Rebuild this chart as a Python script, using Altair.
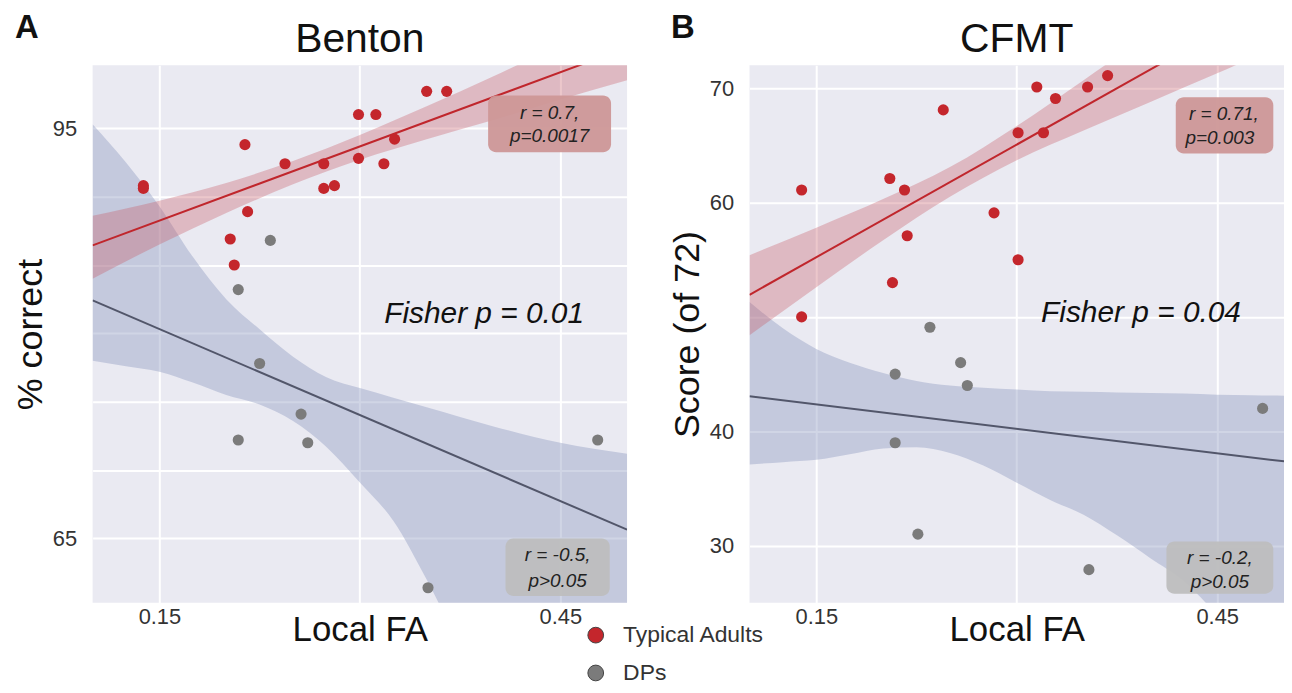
import altair as alt
import pandas as pd

FONT = "Liberation Sans"
GROUPS = ["Typical Adults", "DPs"]
PT_COLORS = ["#C4262C", "#7B7B7B"]

# ---------------- Panel A : Benton ----------------
a_ta_x = [0.138, 0.138, 0.214, 0.216, 0.203, 0.206, 0.244, 0.273, 0.273, 0.281,
          0.299, 0.312, 0.299, 0.318, 0.326, 0.350, 0.365]
a_ta_y = [90.8, 90.6, 93.8, 88.9, 86.9, 85.0, 92.4, 92.4, 90.6, 90.8,
          96.0, 96.0, 92.8, 92.4, 94.2, 97.7, 97.7]
a_dp_x = [0.233, 0.209, 0.225, 0.256, 0.209, 0.261, 0.351, 0.478]
a_dp_y = [86.8, 83.2, 77.8, 74.1, 72.2, 72.0, 61.4, 72.2]

# confidence bands
a_red_band_x = [0.10, 0.15, 0.20, 0.25, 0.30, 0.35, 0.40, 0.45, 0.50]
a_red_band_lo = [84.0, 86.5, 88.8, 90.9, 92.7, 94.2, 95.6, 97.1, 98.5]
a_red_band_hi = [88.6, 89.7, 91.0, 92.6, 94.5, 96.6, 98.8, 101.1, 103.3]
a_gray_band_x = [0.10, 0.125, 0.15, 0.175, 0.20, 0.225, 0.25, 0.275, 0.30,
                 0.325, 0.35, 0.40, 0.45, 0.50]
a_gray_band_lo = [78.0, 77.6, 77.2, 76.4, 75.5, 74.8, 73.6, 71.7, 69.1,
                  66.3, 62.0, 52.0, 44.0, 38.0]
a_gray_band_hi = [95.3, 92.5, 89.3, 85.6, 82.5, 80.3, 78.3, 76.8, 76.0,
                  75.3, 74.6, 73.2, 72.0, 71.2]

a_box_x1 = [0.396, 0.409]
a_box_x2 = [0.488, 0.487]
a_box_y1 = [97.4, 65.0]
a_box_y2 = [93.25, 60.8]
a_txt_x = [0.442, 0.442, 0.448, 0.448]
a_txt_y = [96.1, 94.4, 63.8, 61.9]
a_txt = ["r = 0.7,", "p=0.0017", "r = -0.5,", "p>0.05"]
a_fisher = ("Fisher p = 0.01", 0.393, 81.45)

# ---------------- Panel B : CFMT ----------------
b_ta_x = [0.139, 0.205, 0.216, 0.218, 0.207, 0.139, 0.245, 0.283, 0.301, 0.301,
          0.320, 0.315, 0.329, 0.353, 0.368]
b_ta_y = [61.1, 62.1, 61.1, 57.1, 53.0, 50.0, 68.1, 59.1, 55.0, 66.1,
          66.1, 70.1, 69.1, 70.1, 71.1]
b_dp_x = [0.235, 0.209, 0.226, 0.258, 0.209, 0.263, 0.354, 0.484]
b_dp_y = [49.1, 45.0, 31.0, 46.0, 39.0, 44.0, 27.9, 42.0]

b_red_band_x = [0.10, 0.15, 0.20, 0.25, 0.30, 0.35, 0.40, 0.45, 0.50]
b_red_band_lo = [48.4, 52.6, 56.7, 60.5, 63.7, 66.3, 68.8, 71.3, 73.9]
b_red_band_hi = [55.4, 57.8, 60.3, 63.1, 66.7, 70.7, 74.8, 78.9, 83.1]
b_gray_band_x = [0.10, 0.125, 0.15, 0.175, 0.20, 0.225, 0.25, 0.275, 0.30,
                 0.325, 0.35, 0.375, 0.40, 0.425, 0.45, 0.475, 0.50]
b_gray_band_lo = [37.1, 37.3, 37.5, 38.0, 38.5, 38.6, 38.1, 37.0, 35.5,
                  34.0, 32.7, 30.9, 28.9, 26.9, 24.0, 21.5, 19.0]
b_gray_band_hi = [51.3, 49.0, 47.2, 46.0, 45.1, 44.4, 44.0, 43.8, 43.65,
                  43.5, 43.45, 43.4, 43.35, 43.3, 43.2, 43.15, 43.1]

b_box_x1 = [0.419, 0.412]
b_box_x2 = [0.492, 0.492]
b_box_y1 = [69.2, 30.35]
b_box_y2 = [64.3, 25.8]
b_txt_x = [0.455, 0.452, 0.452, 0.452]
b_txt_y = [67.7, 65.6, 28.9, 26.8]
b_txt = ["r = 0.71,", "p=0.003", "r = -0.2,", "p>0.05"]
b_fisher = ("Fisher p = 0.04", 0.393, 50.3)

BOX_FILLS = ["#CD9797", "#BEBEBE"]
X_DOMAIN = [0.10, 0.50]
W, H = 537, 540


def panel(title, letter, letter_dx, ytitle, ydomain, yvals, yshown,
          ta_x, ta_y, dp_x, dp_y,
          rb_x, rb_lo, rb_hi, gb_x, gb_lo, gb_hi,
          bx1, bx2, by1, by2, tx, ty, tt, fisher):
    xscale = alt.Scale(domain=X_DOMAIN, nice=False, zero=False)
    yscale = alt.Scale(domain=ydomain, nice=False, zero=False)
    xaxis = alt.Axis(values=[0.15, 0.30, 0.45], format=".2f",
                     labelExpr="(datum.value > 0.2 && datum.value < 0.4) ? '' : datum.label",
                     title="Local FA", titleFontSize=35, titleY=38,
                     titleBaseline="alphabetic", labelPadding=4)
    cond = " || ".join(f"datum.value == {v}" for v in yshown)
    yaxis = alt.Axis(values=yvals, labelExpr=f"({cond}) ? datum.label : ''",
                     title=ytitle, titleFontSize=36, titleX=-62,
                     titleBaseline="middle", labelPadding=16)

    def X(f):
        return alt.X(f"{f}:Q", scale=xscale, axis=xaxis)

    def Y(f):
        return alt.Y(f"{f}:Q", scale=yscale, axis=yaxis)

    pts = pd.DataFrame({
        "x": ta_x + dp_x,
        "y": ta_y + dp_y,
        "group": [GROUPS[0]] * len(ta_x) + [GROUPS[1]] * len(dp_x),
    })
    ta = pts[pts.group == GROUPS[0]]
    dp = pts[pts.group == GROUPS[1]]
    rb = pd.DataFrame({"x": rb_x, "lo": rb_lo, "hi": rb_hi})
    gb = pd.DataFrame({"x": gb_x, "lo": gb_lo, "hi": gb_hi})

    gray_band = alt.Chart(gb).mark_area(color="#8E9CC2", opacity=0.42, clip=True,
                                        interpolate="monotone").encode(
        x=X("x"), y=Y("lo"), y2="hi")
    red_band = alt.Chart(rb).mark_area(color="#C85A66", opacity=0.34, clip=True,
                                       interpolate="monotone").encode(
        x=X("x"), y=Y("lo"), y2="hi")
    gray_line = alt.Chart(dp).transform_regression(
        "x", "y", extent=X_DOMAIN).mark_line(color="#52566A", strokeWidth=2, clip=True).encode(
        x=X("x"), y=Y("y"))
    red_line = alt.Chart(ta).transform_regression(
        "x", "y", extent=X_DOMAIN).mark_line(color="#C0262C", strokeWidth=2, clip=True).encode(
        x=X("x"), y=Y("y"))
    points = alt.Chart(pts).mark_circle(size=125, opacity=1).encode(
        x=X("x"), y=Y("y"),
        color=alt.Color("group:N", scale=alt.Scale(domain=GROUPS, range=PT_COLORS),
                        legend=alt.Legend(title=None, orient="none", legendX=494, legendY=561,
                                          labelFontSize=23, labelFont=FONT, labelColor="#333",
                                          symbolType="circle", symbolSize=250,
                                          symbolStrokeColor="#444", symbolStrokeWidth=1,
                                          rowPadding=14, labelOffset=16, padding=0)))
    boxes = alt.Chart(pd.DataFrame({"x1": bx1, "x2": bx2, "y1": by1, "y2": by2,
                                    "fill": BOX_FILLS})).mark_rect(
        cornerRadius=8, opacity=0.95).encode(
        x=X("x1"), x2="x2", y=Y("y1"), y2="y2", fill=alt.Fill("fill:N", scale=None))
    texts = alt.Chart(pd.DataFrame({"x": tx, "y": ty, "t": tt})).mark_text(
        font=FONT, fontSize=19, fontStyle="italic", color="#222",
        align="center", baseline="middle").encode(x=X("x"), y=Y("y"), text="t:N")
    fish = alt.Chart(pd.DataFrame({"x": [fisher[1]], "y": [fisher[2]], "t": [fisher[0]]})).mark_text(
        font=FONT, fontSize=30, fontStyle="italic", color="#111",
        align="center", baseline="middle").encode(x=X("x"), y=Y("y"), text="t:N")
    let = alt.Chart(pd.DataFrame({"t": [letter]})).mark_text(
        font=FONT, fontSize=33, fontWeight="bold", color="#111",
        align="left", baseline="alphabetic").encode(
        x=alt.value(letter_dx), y=alt.value(-27), text="t:N")
    ttl = alt.Chart(pd.DataFrame({"t": [title]})).mark_text(
        font=FONT, fontSize=41, color="#111",
        align="center", baseline="alphabetic").encode(
        x=alt.value(W / 2), y=alt.value(-13), text="t:N")

    return alt.layer(gray_band, red_band, gray_line, red_line, points,
                     boxes, texts, fish, let, ttl).properties(width=W, height=H)


pa = panel("Benton", "A", -78, "% correct", [60.3, 99.6], [65, 70, 75, 80, 85, 90, 95], [65, 95],
           a_ta_x, a_ta_y, a_dp_x, a_dp_y,
           a_red_band_x, a_red_band_lo, a_red_band_hi,
           a_gray_band_x, a_gray_band_lo, a_gray_band_hi,
           a_box_x1, a_box_x2, a_box_y1, a_box_y2, a_txt_x, a_txt_y, a_txt, a_fisher)
pb = panel("CFMT", "B", -79, "Score (of 72)", [25.0, 72.0], [30, 40, 50, 60, 70], [30, 40, 60, 70],
           b_ta_x, b_ta_y, b_dp_x, b_dp_y,
           b_red_band_x, b_red_band_lo, b_red_band_hi,
           b_gray_band_x, b_gray_band_lo, b_gray_band_hi,
           b_box_x1, b_box_x2, b_box_y1, b_box_y2, b_txt_x, b_txt_y, b_txt, b_fisher)

chart = alt.hconcat(pa, pb, spacing=43).properties(
    padding={"left": 5, "top": 3, "right": 0, "bottom": 0},
    background="white"
).configure_view(fill="#EAEAF2", stroke=None).configure_axis(
    domain=False, ticks=False, grid=True, gridColor="white", gridWidth=2,
    labelFont=FONT, labelFontSize=22, labelColor="#333",
    titleFont=FONT, titleFontWeight="normal", titleColor="#111"
)

chart.save("out.html", embed_options={"renderer": "svg", "actions": False})
